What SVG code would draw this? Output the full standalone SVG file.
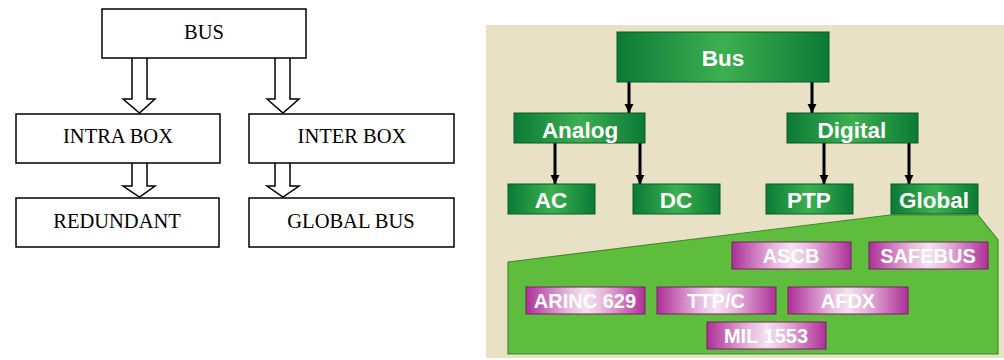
<svg xmlns="http://www.w3.org/2000/svg" width="1004" height="360" viewBox="0 0 1004 360">
<defs>
<linearGradient id="gG" x1="0" y1="0" x2="1" y2="0">
<stop offset="0" stop-color="#0b7a36"/><stop offset="0.5" stop-color="#3cb050"/><stop offset="1" stop-color="#0b7a36"/>
</linearGradient>
<linearGradient id="gP" x1="0" y1="0" x2="1" y2="0">
<stop offset="0" stop-color="#ad2f98"/><stop offset="0.35" stop-color="#e6b8dc"/><stop offset="0.5" stop-color="#f4e2f0"/><stop offset="0.65" stop-color="#e6b8dc"/><stop offset="1" stop-color="#ad2f98"/>
</linearGradient>
<marker id="ah" viewBox="0 0 10 10" refX="10" refY="5" markerWidth="3" markerHeight="3.3" orient="auto" markerUnits="strokeWidth">
<path d="M0,0 L10,5 L0,10 z" fill="#000"/>
</marker>
<style>
.lb{fill:#fff;stroke:#000;stroke-width:1.5}
.lt{font-family:"Liberation Serif",serif;font-size:20.5px;fill:#000;text-anchor:middle}
.ha{fill:#fff;stroke:#000;stroke-width:1.5;stroke-linejoin:miter}
.gb{fill:url(#gG);stroke:#0a5a28;stroke-width:1}
.gt{font-family:"Liberation Sans",Arial,sans-serif;font-weight:bold;font-size:22.5px;fill:#fff;text-anchor:middle}
.pb{fill:url(#gP);stroke:#7a2060;stroke-width:1}
.pt{font-family:"Liberation Sans",Arial,sans-serif;font-weight:bold;font-size:20px;fill:#fff;text-anchor:middle}
.ar{stroke:#000;stroke-width:3;fill:none;marker-end:url(#ah)}
</style>
</defs>
<rect width="1004" height="360" fill="#fff"/>
<!-- Left diagram -->
<g id="connectors-left">
<path class="ha" d="M132,58 V99 H123 L139.5,113 L155,99 H147 V58"/>
<path class="ha" d="M275,58 V99 H267 L283,113 L299,99 H290 V58"/>
<path class="ha" d="M132,163 V186 H123 L139.5,197 L155,186 H147 V163"/>
<path class="ha" d="M275,163 V186 H267 L283,197 L299,186 H290 V163"/>
</g>
<g id="l-bus"><rect class="lb" x="102" y="9" width="204" height="49"/><text class="lt" x="204" y="39">BUS</text></g>
<g id="l-intra"><rect class="lb" x="16" y="114" width="204" height="49"/><text class="lt" x="118" y="143">INTRA BOX</text></g>
<g id="l-inter"><rect class="lb" x="249" y="114" width="205" height="49"/><text class="lt" x="352" y="143">INTER BOX</text></g>
<g id="l-redundant"><rect class="lb" x="16" y="198" width="203" height="49"/><text class="lt" x="117" y="228">REDUNDANT</text></g>
<g id="l-global"><rect class="lb" x="249" y="198" width="205" height="49"/><text class="lt" x="351" y="228">GLOBAL BUS</text></g>
<!-- Right diagram -->
<rect x="486" y="25" width="518" height="333" fill="#e9e1c6"/>
<g id="global-area"><path d="M508,262 L890,215 H978 L998,240 V354 H508 Z" fill="#5fbd3e" stroke="#3f8a2a" stroke-width="1.2"/></g>
<g id="connectors-right">
<line class="ar" x1="629" y1="82" x2="629" y2="113"/>
<line class="ar" x1="812" y1="82" x2="812" y2="113"/>
<line class="ar" x1="555" y1="143" x2="555" y2="184"/>
<line class="ar" x1="640" y1="143" x2="640" y2="184"/>
<line class="ar" x1="824" y1="143" x2="824" y2="184"/>
<line class="ar" x1="909" y1="143" x2="909" y2="184"/>
</g>
<g id="r-bus"><rect class="gb" x="617" y="32" width="212" height="50"/><text class="gt" x="723" y="66">Bus</text></g>
<g id="r-analog"><rect class="gb" x="514" y="113" width="131" height="30"/><text class="gt" x="580" y="138">Analog</text></g>
<g id="r-digital"><rect class="gb" x="787" y="113" width="131" height="30"/><text class="gt" x="852" y="138">Digital</text></g>
<g id="r-ac"><rect class="gb" x="508" y="184" width="87" height="30"/><text class="gt" x="551" y="208">AC</text></g>
<g id="r-dc"><rect class="gb" x="633" y="184" width="87" height="30"/><text class="gt" x="676" y="208">DC</text></g>
<g id="r-ptp"><rect class="gb" x="766" y="184" width="87" height="30"/><text class="gt" x="809" y="208">PTP</text></g>
<g id="r-globalnode"><rect class="gb" x="891" y="184" width="87" height="30"/><text class="gt" x="934" y="208">Global</text></g>
<g id="p-ascb"><rect class="pb" x="732" y="242" width="119" height="27"/><text class="pt" x="791" y="263">ASCB</text></g>
<g id="p-safebus"><rect class="pb" x="869" y="242" width="119" height="27"/><text class="pt" x="928" y="263">SAFEBUS</text></g>
<g id="p-arinc"><rect class="pb" x="526" y="287" width="119" height="27"/><text class="pt" x="585" y="308">ARINC 629</text></g>
<g id="p-ttpc"><rect class="pb" x="657" y="287" width="119" height="27"/><text class="pt" x="716" y="308">TTP/C</text></g>
<g id="p-afdx"><rect class="pb" x="788" y="287" width="120" height="27"/><text class="pt" x="848" y="308">AFDX</text></g>
<g id="p-mil"><rect class="pb" x="707" y="322" width="119" height="27"/><text class="pt" x="766" y="343">MIL 1553</text></g>
</svg>
